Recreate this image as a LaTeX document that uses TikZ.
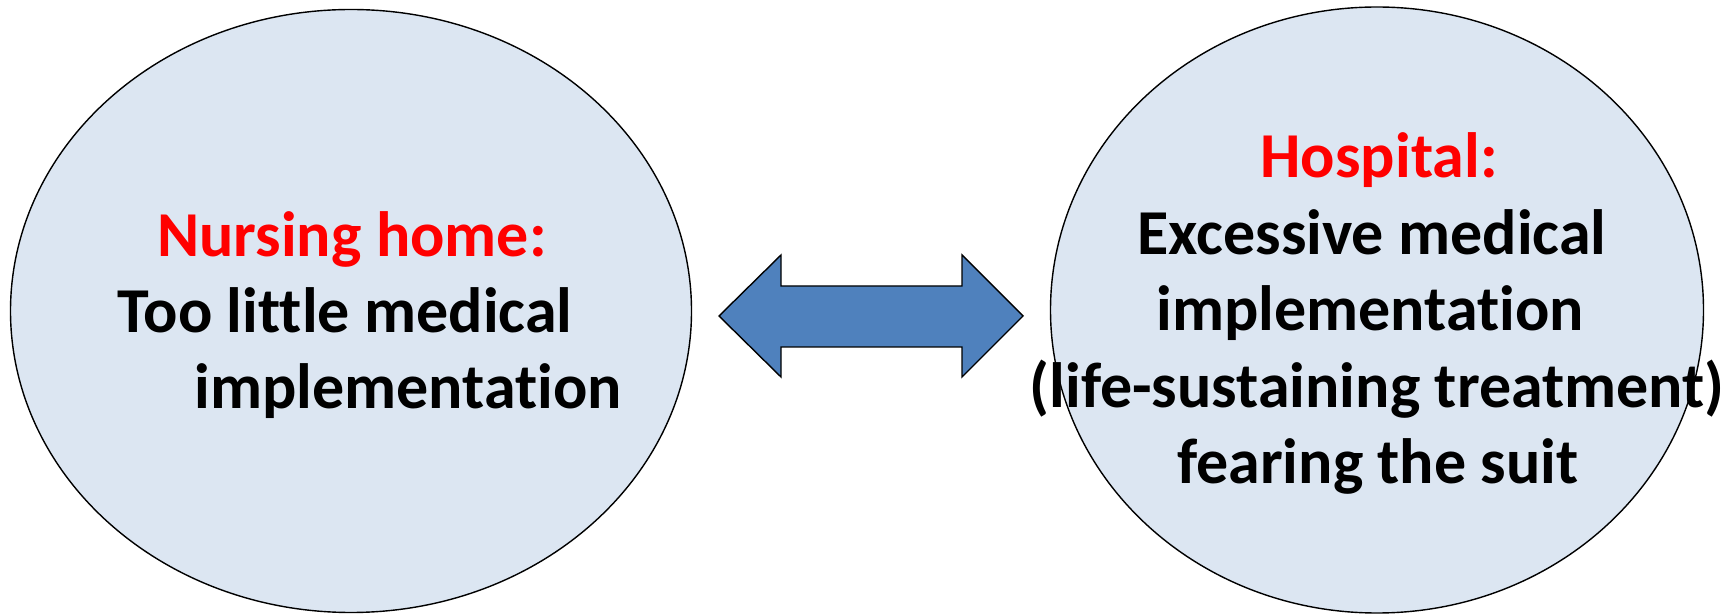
\documentclass[tikz,border=0pt]{standalone}
\usepackage{fontspec}
\setmainfont{Carlito}[Ligatures={NoCommon,NoContextual}]
\definecolor{ellfill}{HTML}{DCE6F2}
\definecolor{arrfill}{HTML}{4F81BD}
\definecolor{redtxt}{HTML}{FF0000}
\tikzset{
  oval/.style={ellipse, draw=black, line width=0.7pt, fill=ellfill, inner sep=0pt},
  lbl/.style={anchor=base, inner sep=0pt, font=\fontsize{32}{38}\selectfont\bfseries, text=black},
  redlbl/.style={lbl, text=redtxt},
  blockarrow/.style={draw=black, line width=0.7pt, fill=arrfill, line join=miter}
}
\usetikzlibrary{shapes.geometric}
\begin{document}
\begin{tikzpicture}[x=0.5pt,y=-0.5pt]
\useasboundingbox (0,0) rectangle (1735,614);
\node[oval, minimum width=340.5pt, minimum height=301.5pt] (home) at (351,311) {};
\node[oval, minimum width=326.5pt, minimum height=303pt] (hosp) at (1377,310) {};
\path[blockarrow] (719,316) coordinate (tipL) -- (781,255) -- (781,286) -- (962,286) -- (962,255) -- (1023,316) coordinate (tipR) -- (962,377) -- (962,347) -- (781,347) -- (781,377) -- cycle;
\node[redlbl] (t1) at (352,256.5) {Nursing home:};
\node[lbl] (t2) at (345,333) {Too little medical};
\node[lbl] (t3) at (408,409) {implementation};
\node[redlbl] (h1) at (1379,178) {Hospital:};
\node[lbl] (h2) at (1372,254.5) {Excessive medical};
\node[lbl] (h3) at (1370,331) {implementation};
\node[lbl] (h4) at (1377,407.5) {(life-sustaining treatment)};
\node[lbl] (h5) at (1378,484) {fearing the suit};
\end{tikzpicture}
\end{document}
